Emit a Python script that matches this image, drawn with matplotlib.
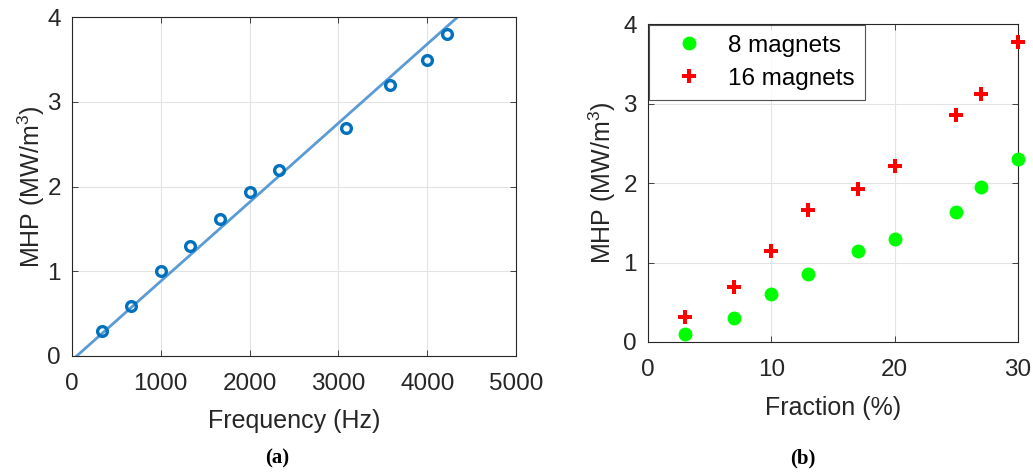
import matplotlib
matplotlib.use("Agg")
import matplotlib.pyplot as plt
import numpy as np

# Panel (a) data
freq = [340, 670, 1000, 1330, 1670, 2000, 2330, 3080, 3580, 4000, 4220]
mhp_a = [0.29, 0.59, 1.00, 1.30, 1.62, 1.93, 2.20, 2.69, 3.20, 3.49, 3.80]
fit_x = [53, 4343]
fit_y = [0.0, 4.0]

# Panel (b) data
fraction = [3, 7, 10, 13, 17, 20, 25, 27, 30]
mhp_8 = [0.10, 0.30, 0.60, 0.85, 1.14, 1.29, 1.64, 1.95, 2.30]
mhp_16 = [0.32, 0.69, 1.15, 1.66, 1.92, 2.21, 2.85, 3.12, 3.77]

plt.rcParams['font.family'] = ['Liberation Sans', 'DejaVu Sans']
plt.rcParams['mathtext.fontset'] = 'custom'
plt.rcParams['mathtext.rm'] = 'Liberation Sans'
txt = '#262626'
W, H = 1033, 473
fig = plt.figure(figsize=(W/100, H/100), dpi=100)

def px_axes(l, t, r, b):
    return fig.add_axes([l/W, 1 - b/H, (r-l)/W, (b-t)/H])

def style(ax):
    ax.grid(True, color='#e3e3e3', linewidth=0.8)
    ax.set_axisbelow(True)
    ax.tick_params(direction='in', top=True, right=True, labelsize=17.5,
                   colors=txt, length=4, width=0.6)
    ax.tick_params(axis='x', pad=12)
    ax.tick_params(axis='y', pad=8)
    for s in ax.spines.values():
        s.set_color('#262626')
        s.set_linewidth(0.8)

ax1 = px_axes(72, 17, 516, 356)
ax1.plot(fit_x, fit_y, color='#5B9BD5', linewidth=2, zorder=2)
ax1.plot(freq, mhp_a, linestyle='none', marker='o', markersize=7,
         markerfacecolor='none', markeredgecolor='#0072BD', markeredgewidth=2.4, zorder=3)
ax1.set_xlim(0, 5000)
ax1.set_ylim(0, 4)
ax1.set_xticks([0, 1000, 2000, 3000, 4000, 5000])
ax1.set_yticks([0, 1, 2, 3, 4])
style(ax1)
ax1.set_xlabel('Frequency (Hz)', fontsize=18, color=txt, labelpad=10)
ax1.set_ylabel('MHP (MW/m$^3$)', fontsize=18, color=txt, labelpad=0)

ax2 = px_axes(648, 24, 1018, 342)
ax2.plot(fraction, mhp_8, linestyle='none', marker='o', markersize=9,
         color='#00FF00', markeredgecolor='#00FF00', label='8 magnets', zorder=3, clip_on=False)
ax2.plot(fraction, mhp_16, linestyle='none', marker='P', markersize=9.5,
         color='#FF0000', markeredgecolor='#FF0000', markeredgewidth=0, label='16 magnets', zorder=3, clip_on=False)
ax2.set_xlim(0, 30)
ax2.set_ylim(0, 4)
ax2.set_xticks([0, 10, 20, 30])
ax2.set_yticks([0, 1, 2, 3, 4])
style(ax2)
ax2.set_xlabel('Fraction (%)', fontsize=18, color=txt, labelpad=11)
ax2.set_ylabel('MHP (MW/m$^3$)', fontsize=18, color=txt, labelpad=4)
leg = ax2.legend(loc='upper left', fontsize=17.5, frameon=True, fancybox=False,
                 borderaxespad=0.05, handletextpad=0.35, borderpad=0.4, labelspacing=0.45,
                 handlelength=2.5)
leg.get_frame().set_edgecolor('#262626')
leg.get_frame().set_linewidth(0.8)
for t in leg.get_texts():
    t.set_color('#000000')

fig.text(277/W, 1 - 458/H, '(a)', fontsize=15, fontweight='bold', family='Liberation Serif',
         ha='center', va='center')
fig.text(803/W, 1 - 458/H, '(b)', fontsize=15, fontweight='bold', family='Liberation Serif',
         ha='center', va='center')

fig.savefig('out.png', dpi=100)
